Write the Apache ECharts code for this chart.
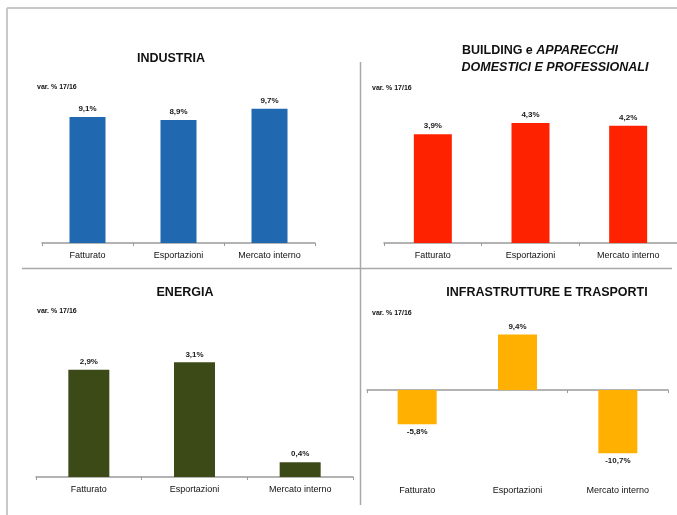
<!DOCTYPE html>
<html>
<head>
<meta charset="utf-8">
<script src="https://cdn.jsdelivr.net/npm/echarts@6/dist/echarts.min.js"></script>
<style>
  html, body { margin: 0; padding: 0; background: #ffffff; }
  #chart { width: 677px; height: 515px; }
</style>
</head>
<body>
<div id="chart"></div>
<script>
// Categories shared by all four panels
const categories = ['Fatturato', 'Esportazioni', 'Mercato interno'];

// Percentage change 2017 vs 2016, by sector
const industria = [9.1, 8.9, 9.7];
const building = [3.9, 4.3, 4.2];
const energia = [2.9, 3.1, 0.4];
const infrastrutture = [-5.8, 9.4, -10.7];

const unitLabel = 'var. % 17/16';

const fontFamily = 'Arial, "Liberation Sans", sans-serif';

function pct(v) {
  return v.toFixed(1).replace('.', ',') + '%';
}

// One panel = one grid + x axis + y axis + bar series
const panels = [
  { data: industria, color: '#2068b0', grid: { left: 42, top: 77, width: 273, height: 166 }, min: 0, max: 12, barWidth: 36 },
  { data: building, color: '#ff2200', grid: { left: 384, top: 103.5, width: 294, height: 139.5 }, min: 0, max: 5, barWidth: 38 },
  { data: energia, color: '#3c4a18', grid: { left: 36, top: 347.5, width: 317, height: 129.5 }, min: 0, max: 3.5, barWidth: 41 },
  { data: infrastrutture, color: '#ffb000', grid: { left: 367, top: 331, width: 301, height: 147.5 }, min: -15, max: 10, barWidth: 39, zeroLine: true }
];

const axisColor = '#9a9a9a';
const grids = [], xAxes = [], yAxes = [], series = [];
panels.forEach((p, i) => {
  grids.push(Object.assign({ containLabel: false }, p.grid));
  xAxes.push({
    type: 'category',
    gridIndex: i,
    data: categories,
    position: 'bottom',
    axisLine: { show: !p.zeroLine, onZero: false, lineStyle: { color: axisColor, width: 1.5 } },
    axisTick: { show: !p.zeroLine, length: 3, lineStyle: { color: axisColor } },
    axisLabel: { color: '#111', fontSize: 9, fontFamily: fontFamily, margin: 8, interval: 0 }
  });
  yAxes.push({
    type: 'value',
    gridIndex: i,
    min: p.min,
    max: p.max,
    show: false,
    splitLine: { show: false }
  });
  series.push({
    type: 'bar',
    xAxisIndex: i,
    yAxisIndex: i,
    data: p.data.map(v => ({
      value: v,
      label: { position: v < 0 ? 'bottom' : 'top' }
    })),
    barWidth: p.barWidth,
    itemStyle: { color: p.color },
    label: {
      show: true,
      formatter: d => pct(d.value),
      fontSize: 8,
      fontWeight: 'bold',
      color: '#1a1a1a',
      fontFamily: fontFamily,
      distance: 4
    },
    animation: false
  });
});

// Zero baseline for the panel with negative values: a second category axis
// sitting on y = 0, with ticks but no labels
panels.forEach((p, i) => {
  if (!p.zeroLine) return;
  xAxes.push({
    type: 'category',
    gridIndex: i,
    data: categories,
    position: 'top',
    axisLine: { show: true, onZero: true, lineStyle: { color: axisColor, width: 1.5 } },
    axisTick: { show: true, inside: true, length: 3, lineStyle: { color: axisColor } },
    axisLabel: { show: false }
  });
});

const titleFont = 'bold 12.5px ' + fontFamily;
const titleStyle = { fill: '#111', font: titleFont, textAlign: 'center' };
const unitStyle = { fill: '#111', font: 'bold 7px ' + fontFamily };

const chart = echarts.init(document.getElementById('chart'), null, { renderer: 'canvas' });
chart.setOption({
  animation: false,
  backgroundColor: '#ffffff',
  grid: grids,
  xAxis: xAxes,
  yAxis: yAxes,
  series: series,
  graphic: [
    // outer frame
    { type: 'line', shape: { x1: 7, y1: 8, x2: 677, y2: 8 }, style: { stroke: '#c8c8c8', lineWidth: 2 } },
    { type: 'line', shape: { x1: 7, y1: 8, x2: 7, y2: 515 }, style: { stroke: '#c8c8c8', lineWidth: 2 } },
    // panel dividers
    { type: 'line', shape: { x1: 22, y1: 268.5, x2: 672, y2: 268.5 }, style: { stroke: '#a8a8a8', lineWidth: 1.5 } },
    { type: 'line', shape: { x1: 360.5, y1: 62, x2: 360.5, y2: 505 }, style: { stroke: '#a8a8a8', lineWidth: 1.5 } },
    // panel titles
    { type: 'text', x: 171, y: 52, style: Object.assign({ text: 'INDUSTRIA' }, titleStyle) },
    { type: 'text', x: 185, y: 286, style: Object.assign({ text: 'ENERGIA' }, titleStyle) },
    { type: 'text', x: 547, y: 286, style: Object.assign({ text: 'INFRASTRUTTURE E TRASPORTI' }, titleStyle) },
    {
      type: 'text', x: 540, y: 44,
      style: {
        text: '{b|BUILDING e }{i|APPARECCHI}',
        textAlign: 'center',
        rich: {
          b: { fill: '#111', font: titleFont },
          i: { fill: '#111', font: 'italic ' + titleFont }
        }
      }
    },
    { type: 'text', x: 555, y: 61, style: { text: 'DOMESTICI E PROFESSIONALI', fill: '#111', font: 'italic ' + titleFont, textAlign: 'center' } },
    // unit notes
    { type: 'text', x: 37, y: 84, style: Object.assign({ text: unitLabel }, unitStyle) },
    { type: 'text', x: 372, y: 85, style: Object.assign({ text: unitLabel }, unitStyle) },
    { type: 'text', x: 37, y: 308, style: Object.assign({ text: unitLabel }, unitStyle) },
    { type: 'text', x: 372, y: 310, style: Object.assign({ text: unitLabel }, unitStyle) }
  ]
});
</script>
</body>
</html>
